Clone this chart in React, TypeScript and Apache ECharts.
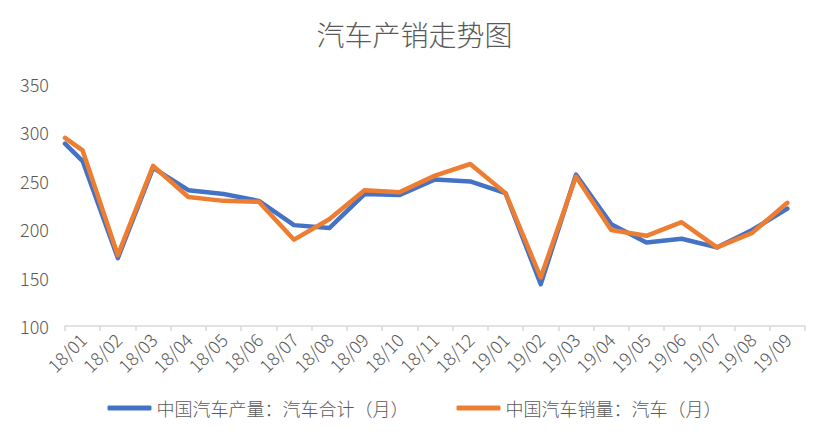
import React, { useEffect, useRef } from "react";
import * as echarts from "echarts";

const title = "汽车产销走势图";
const categories = [
  "18/01", "18/02", "18/03", "18/04", "18/05", "18/06", "18/07", "18/08", "18/09", "18/10",
  "18/11", "18/12", "19/01", "19/02", "19/03", "19/04", "19/05", "19/06", "19/07", "19/08", "19/09",
];
const productionName = "中国汽车产量：汽车合计（月）";
const salesName = "中国汽车销量：汽车（月）";
// first reading sits at the start of 18/01, the others at the middle of each month
const production = [288, 270, 170, 263, 240, 236, 229, 204, 201, 236, 235, 251, 249, 237, 143, 256, 205, 186, 190, 181, 199, 221];
const sales = [294, 281, 173, 265, 233, 229, 228, 189, 210, 240, 238, 255, 267, 237, 150, 254, 199, 193, 207, 181, 196, 227];
const yTicks = [100, 150, 200, 250, 300, 350];

const slots = [0, ...categories.map((_, i) => i + 0.5)];

export default function App() {
  const ref = useRef<HTMLDivElement>(null);
  useEffect(() => {
    if (!ref.current) return;
    const chart = echarts.init(ref.current, undefined, { renderer: "svg" });
    const font = "'Noto Sans CJK SC', 'Noto Sans', sans-serif";
    const grey = "#595959";
    chart.setOption({
      animation: false,
      backgroundColor: "#ffffff",
      title: {
        text: title,
        left: "center",
        top: 15,
        textStyle: { fontFamily: font, fontSize: 28, fontWeight: 300, color: grey },
      },
      legend: {
        bottom: 16,
        left: "center",
        itemWidth: 44,
        itemHeight: 5,
        itemGap: 48,
        icon: "roundRect",
        textStyle: { fontFamily: font, fontSize: 18, fontWeight: 300, color: grey },
        data: [productionName, salesName],
      },
      grid: { left: 65, right: 24, top: 83.5, bottom: 112, containLabel: false },
      xAxis: [
        {
          type: "category",
          data: categories,
          boundaryGap: true,
          axisLine: { lineStyle: { color: "#d9d9d9", width: 1.5 } },
          axisTick: { show: true, length: 5, lineStyle: { color: "#d9d9d9", width: 1.5 } },
          axisLabel: { rotate: 45, margin: 10, fontFamily: font, fontSize: 18, fontWeight: 300, color: grey, interval: 0 },
          splitLine: { show: false },
        },
        {
          type: "value",
          min: 0,
          max: categories.length,
          show: false,
          splitLine: { show: false },
        },
      ],
      yAxis: {
        type: "value",
        min: yTicks[0],
        max: yTicks[yTicks.length - 1],
        interval: yTicks[1] - yTicks[0],
        axisLine: { show: false },
        axisTick: { show: false },
        splitLine: { show: false },
        axisLabel: { margin: 16, fontFamily: font, fontSize: 18, fontWeight: 300, color: grey },
      },
      series: [
        {
          name: productionName,
          type: "line",
          xAxisIndex: 1,
          data: production.map((v, i) => [slots[i], v]),
          symbol: "none",
          lineStyle: { color: "#4472C4", width: 4.5, cap: "round", join: "round" },
          itemStyle: { color: "#4472C4" },
        },
        {
          name: salesName,
          type: "line",
          xAxisIndex: 1,
          data: sales.map((v, i) => [slots[i], v]),
          symbol: "none",
          lineStyle: { color: "#ED7D31", width: 4.5, cap: "round", join: "round" },
          itemStyle: { color: "#ED7D31" },
        },
      ],
    });
    return () => chart.dispose();
  }, []);
  return (
    <div
      ref={ref}
      style={{
        position: "absolute",
        left: 0,
        top: 0,
        width: 829,
        height: 438,
        outline: "1px solid #d9d9d9",
        outlineOffset: -2,
      }}
    />
  );
}
